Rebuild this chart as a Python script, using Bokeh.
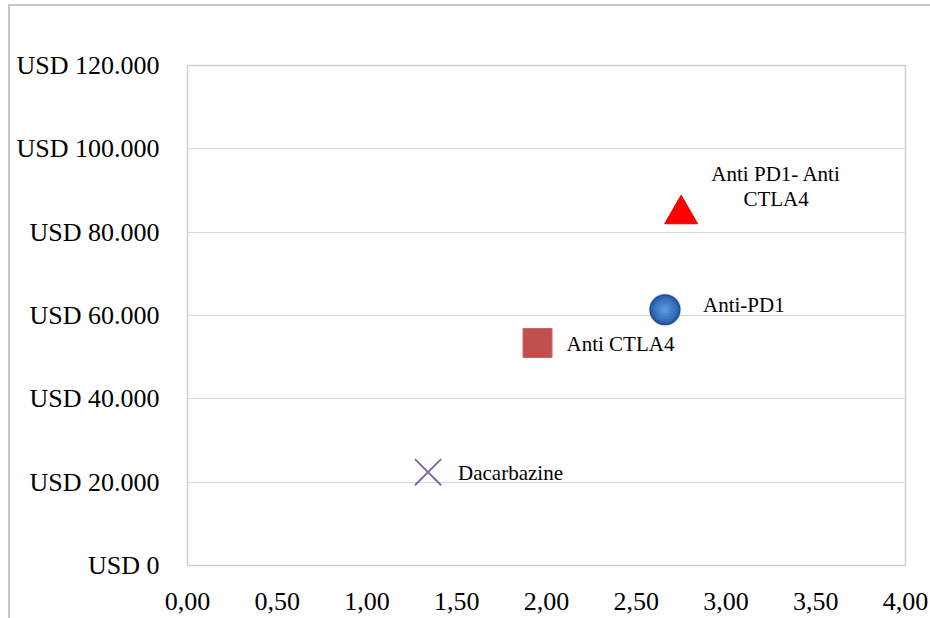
from bokeh.plotting import figure
from bokeh.models import FixedTicker, ColumnDataSource, Range1d
from bokeh.layouts import column
from bokeh.embed import file_html
from bokeh.resources import INLINE
from bokeh.core.properties import value

# Treatments: effectiveness (x) against cost in USD (y)
treatments = ["Dacarbazine", "Anti CTLA4", "Anti-PD1", "Anti PD1- Anti\nCTLA4"]
effect = [1.34, 1.95, 2.66, 2.75]
cost = [22400, 53400, 61400, 84300]

x_ticks = [0.0, 0.5, 1.0, 1.5, 2.0, 2.5, 3.0, 3.5, 4.0]
x_tick_labels = ["0,00", "0,50", "1,00", "1,50", "2,00", "2,50", "3,00", "3,50", "4,00"]
y_ticks = [0, 20000, 40000, 60000, 80000, 100000, 120000]
y_tick_labels = ["USD 0", "USD 20.000", "USD 40.000", "USD 60.000",
                 "USD 80.000", "USD 100.000", "USD 120.000"]

FONT = "Liberation Serif"
GRID = "#d9d9d9"

p = figure(
    frame_width=718, frame_height=500,
    min_border_left=177, min_border_right=25, min_border_top=59, min_border_bottom=53,
    x_range=Range1d(0, 4), y_range=Range1d(0, 120000),
    output_backend="svg", toolbar_location=None,
    background_fill_color="white", border_fill_color="white",
)

p.outline_line_color = "#d0d0d0"
p.outline_line_width = 1.5
p.xgrid.grid_line_color = None
p.ygrid.grid_line_color = GRID
p.ygrid.grid_line_width = 1

p.xaxis.ticker = FixedTicker(ticks=x_ticks)
p.yaxis.ticker = FixedTicker(ticks=y_ticks)
p.xaxis.major_label_overrides = dict(zip(x_ticks, x_tick_labels))
p.yaxis.major_label_overrides = dict(zip(y_ticks, y_tick_labels))
for ax in (p.xaxis, p.yaxis):
    ax.axis_line_color = None
    ax.major_tick_line_color = None
    ax.minor_tick_line_color = None
    ax.major_label_text_font = FONT
    ax.major_label_text_font_size = "26px"
    ax.major_label_text_color = "black"
p.xaxis.major_label_standoff = 21
p.yaxis.major_label_standoff = 22


def point_source(i):
    return ColumnDataSource(dict(x=[effect[i]], y=[cost[i]], name=[treatments[i]]))


src = [point_source(i) for i in range(len(treatments))]

# Dacarbazine: purple cross
p.scatter("x", "y", source=src[0], marker="x", size=37,
          line_color="#8064A2", line_width=1.8)

# Anti CTLA4: red square
p.scatter("x", "y", source=src[1], marker="square", size=29,
          fill_color="#C0504D", line_color="#D06663", line_width=1)

# Anti-PD1: shaded blue sphere built from stacked discs
sphere = [(33, "#c9d3df", 0.6), (31, "#1F4F8F", 1), (28, "#2B62A8", 1),
          (24, "#3670B9", 1), (19, "#3F7CC6", 1), (13, "#4A88D1", 1), (7, "#5A95DA", 1)]
for size, color, alpha in sphere:
    p.scatter("x", "y", source=src[2], marker="circle", size=size,
              fill_color=color, fill_alpha=alpha, line_color=None)

# Anti PD1 + Anti CTLA4: red triangle
p.scatter("x", "y", source=src[3], marker="triangle", size=33,
          fill_color="#FF0000", line_color="#E00000", line_width=1)

# Data labels placed to the right of each marker
label_offsets = [(30, 1), (29, 1), (38, -5), (95, -28)]
label_align = ["left", "left", "left", "center"]
for s, (dx, dy), align in zip(src, label_offsets, label_align):
    p.text("x", "y", text="name", source=s, x_offset=dx, y_offset=dy,
           text_align=align, text_baseline="middle",
           text_font=value(FONT), text_font_size="21px", text_color="black",
           text_line_height=1.05)

layout = column(p, styles={
    "border-top": "2px solid #c4c4c4",
    "border-left": "2px solid #c4c4c4",
    "margin-left": "8px",
    "margin-top": "4px",
})

open("out.html", "w").write(file_html(layout, INLINE))
